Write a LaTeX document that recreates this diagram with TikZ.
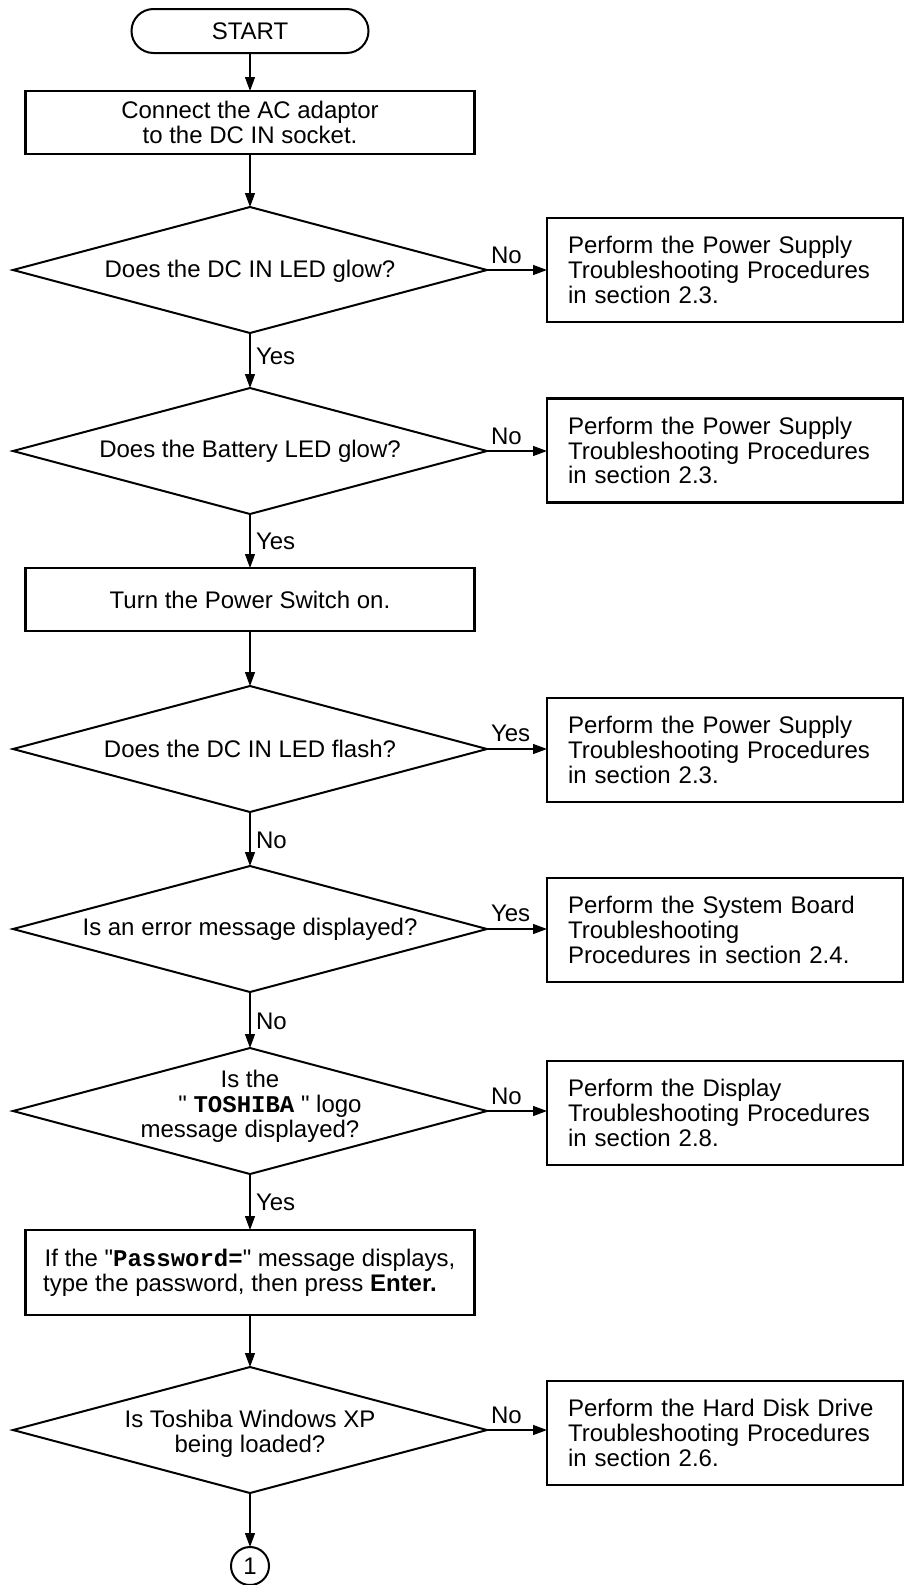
\documentclass[tikz,border=0pt]{standalone}
\usepackage{fontspec}
\setmainfont{Liberation Sans}[Ligatures=TeXOff]
\setmonofont{Liberation Mono}
\usetikzlibrary{arrows.meta,shapes.geometric,calc}
\newcommand{\sq}{\symbol{34}}
\begin{document}
\begin{tikzpicture}[x=0.5pt,y=-0.5pt,
  font=\fontsize{12pt}{12.4pt}\selectfont,
  every node/.style={inner sep=0pt, outer sep=0pt},
  termbox/.style={draw, line width=1pt, rounded corners=11pt, minimum width=118.5pt, minimum height=22pt},
  procbox/.style={draw, line width=1.3pt, minimum width=224.5pt, align=center},
  sidebox/.style={draw, line width=1.3pt, text width=157pt, inner xsep=10.5pt, minimum height=52pt, align=left},
  decis/.style={draw, diamond, line width=1pt, minimum width=237pt, minimum height=63pt},
  dtext/.style={align=center},
  conn/.style={line width=0.6pt, -{Triangle[length=7pt,width=5pt]}},
  hlab/.style={anchor=base west},
  vlab/.style={anchor=west},
  endcirc/.style={draw, circle, line width=1pt, minimum size=19pt}
]
\useasboundingbox (0,0) rectangle (905,1585);

% main column
\node[termbox] (start) at (250,31) {START};
\node[procbox, minimum height=31.5pt] (b1) at (250,122.5) {Connect the AC adaptor\\to the DC IN socket.};

\node[decis] (d1) at (250,270) {};
\node[dtext] (d1t) at (250,271) {Does the DC IN LED glow?};
\node[sidebox] (r1) at (725,270) {Perform the Power Supply\\Troubleshooting Procedures\\in section 2.3.};

\node[decis] (d2) at (250,451) {};
\node[dtext] (d2t) at (250,451) {Does the Battery LED glow?};
\node[sidebox] (r2) at (725,450.5) {Perform the Power Supply\\Troubleshooting Procedures\\in section 2.3.};

\node[procbox, minimum height=31.5pt] (b2) at (250,599.5) {Turn the Power Switch on.};

\node[decis] (d3) at (250,749) {};
\node[dtext] (d3t) at (250,749) {Does the DC IN LED flash?};
\node[sidebox] (r3) at (725,750) {Perform the Power Supply\\Troubleshooting Procedures\\in section 2.3.};

\node[decis] (d4) at (250,929) {};
\node[dtext] (d4t) at (250,929) {Is an error message displayed?};
\node[sidebox] (r4) at (725,930) {Perform the System Board\\Troubleshooting\\Procedures in section 2.4.};

\node[decis] (d5) at (250,1111) {};
\node[dtext] (d5t) at (250,1106) {Is the\\\hspace*{20pt}\sq\ \textbf{\texttt{TOSHIBA}} \sq\ logo\\message displayed?};
\node[sidebox] (r5) at (725,1113) {Perform the Display\\Troubleshooting Procedures\\in section 2.8.};

\node[procbox, minimum height=42.5pt] (b3) at (250,1272.5) {If the \sq\textbf{\texttt{Password=}}\sq\ message displays,\\type the password, then press \textbf{Enter.}\hspace*{10pt}};

\node[decis] (d6) at (250,1430) {};
\node[dtext] (d6t) at (250,1434) {Is Toshiba Windows XP\\being loaded?};
\node[sidebox] (r6) at (725,1433) {Perform the Hard Disk Drive\\Troubleshooting Procedures\\in section 2.6.};

\node[endcirc] (c1) at (250,1566) {1};

% vertical connectors
\draw[conn] (start) -- (b1);
\draw[conn] (b1) -- (d1.north);
\draw[conn] (d1.south) -- (d2.north);
\draw[conn] (d2.south) -- (b2.north);
\draw[conn] (b2.south) -- (d3.north);
\draw[conn] (d3.south) -- (d4.north);
\draw[conn] (d4.south) -- (d5.north);
\draw[conn] (d5.south) -- (b3.north);
\draw[conn] (b3.south) -- (d6.north);
\draw[conn] (d6.south) -- (c1.north);

% vertical labels
\node[vlab] (y1) at ($(d1.south)!0.5!(d2.north)+(6,-4)$) {Yes};
\node[vlab] (y2) at ($(d2.south)!0.5!(b2.north)+(6,0)$) {Yes};
\node[vlab] (n3) at ($(d3.south)!0.5!(d4.north)+(6,1)$) {No};
\node[vlab] (n4) at ($(d4.south)!0.5!(d5.north)+(6,1)$) {No};
\node[vlab] (y5) at ($(d5.south)!0.5!(b3.north)+(6,0)$) {Yes};

% horizontal connectors
\draw[conn] (d1.east) -- (d1.east -| r1.west);
\draw[conn] (d2.east) -- (d2.east -| r2.west);
\draw[conn] (d3.east) -- (d3.east -| r3.west);
\draw[conn] (d4.east) -- (d4.east -| r4.west);
\draw[conn] (d5.east) -- (d5.east -| r5.west);
\draw[conn] (d6.east) -- (d6.east -| r6.west);

% horizontal labels
\node[hlab] (h1) at ([shift={(4,-7)}]d1.east) {No};
\node[hlab] (h2) at ([shift={(4,-7)}]d2.east) {No};
\node[hlab] (h3) at ([shift={(4,-8)}]d3.east) {Yes};
\node[hlab] (h4) at ([shift={(4,-8)}]d4.east) {Yes};
\node[hlab] (h5) at ([shift={(4,-7)}]d5.east) {No};
\node[hlab] (h6) at ([shift={(4,-7)}]d6.east) {No};
\end{tikzpicture}
\end{document}
